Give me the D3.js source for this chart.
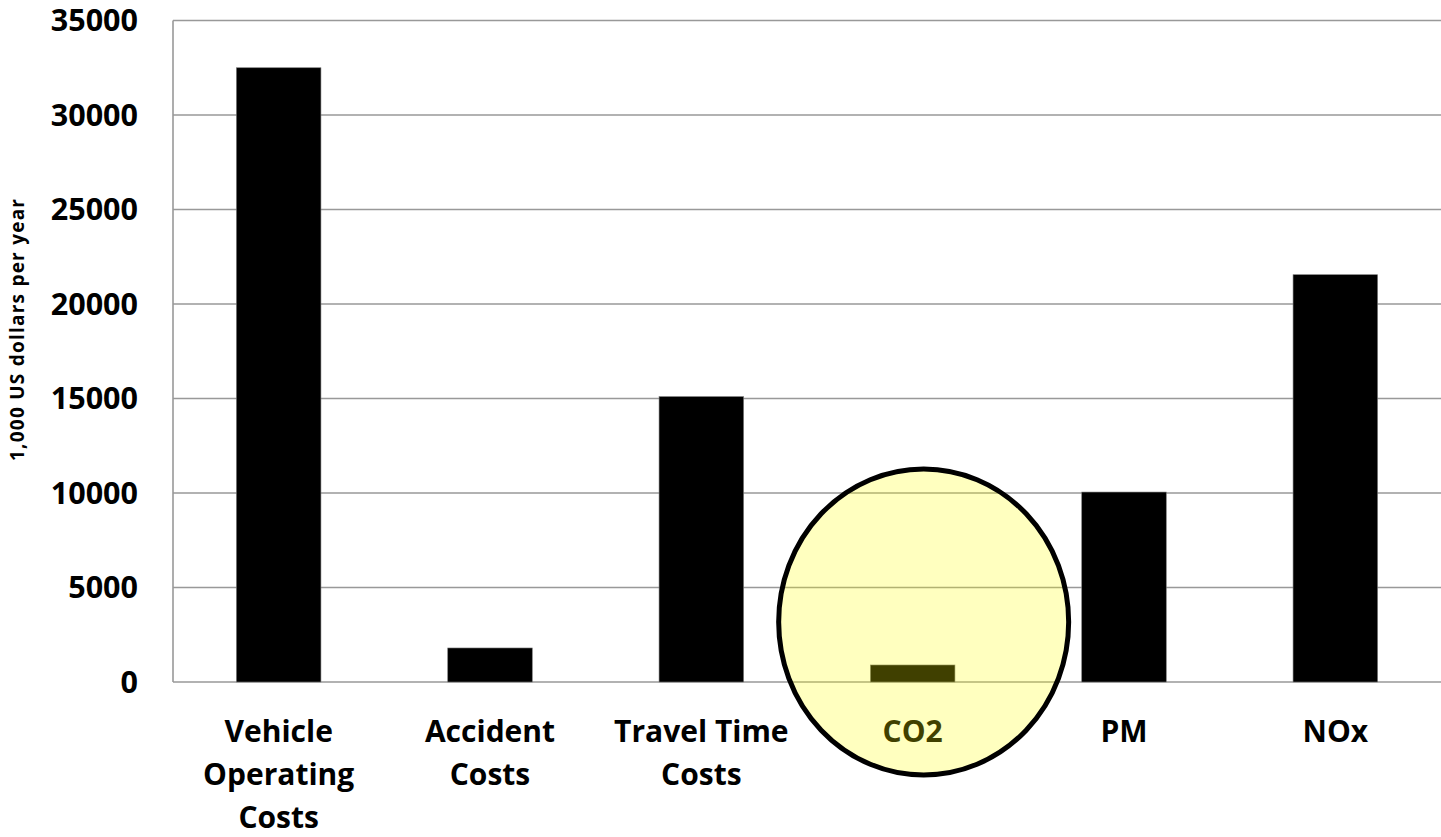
<!DOCTYPE html>
<html>
<head>
<meta charset="utf-8">
<script src="https://cdn.jsdelivr.net/npm/d3@7"></script>
<style>
  body { margin: 0; background: #fff; }
  text { font-family: "Open Sans", sans-serif; font-weight: 700; fill: #000; }
</style>
</head>
<body>
<svg id="chart" width="1441" height="837"></svg>
<script>
const categories = ['Vehicle Operating Costs', 'Accident Costs', 'Travel Time Costs', 'CO2', 'PM', 'NOx']
const labelLines = [['Vehicle', 'Operating', 'Costs'], ['Accident', 'Costs'], ['Travel Time', 'Costs'], ['CO2'], ['PM'], ['NOx']]
const costs = [32500, 1800, 15100, 900, 10050, 21550]
const yTicks = [0, 5000, 10000, 15000, 20000, 25000, 30000, 35000]
const yTitle = '1,000 US dollars per year'
const highlight = 'CO2'

const svg = d3.select('#chart')
const plotLeft = 173, plotRight = 1441, plotTop = 20.5, plotBottom = 682

const x = d3.scaleBand()
  .domain(categories)
  .range([plotLeft, plotRight])
  .paddingInner(0.6)
  .paddingOuter(0.3)

const y = d3.scaleLinear()
  .domain([0, 35000])
  .range([plotBottom, plotTop])

// gridlines
svg.append('g')
  .selectAll('line')
  .data(yTicks)
  .enter().append('line')
    .attr('x1', plotLeft)
    .attr('x2', plotRight)
    .attr('y1', d => y(d))
    .attr('y2', d => y(d))
    .attr('stroke', '#999')
    .attr('stroke-width', 1.6)

// left axis line
svg.append('line')
  .attr('x1', plotLeft).attr('x2', plotLeft)
  .attr('y1', y(35000)).attr('y2', y(0))
  .attr('stroke', '#999')
  .attr('stroke-width', 1.6)

// tick labels
svg.append('g')
  .selectAll('text')
  .data(yTicks)
  .enter().append('text')
    .attr('x', 138)
    .attr('y', d => y(d))
    .attr('dy', '0.36em')
    .attr('text-anchor', 'end')
    .style('font-size', '30.5px')
    .text(d => d)

// bars
svg.append('g')
  .selectAll('rect')
  .data(categories)
  .enter().append('rect')
    .attr('x', d => x(d))
    .attr('y', (d, i) => y(costs[i]))
    .attr('width', x.bandwidth())
    .attr('height', (d, i) => y(0) - y(costs[i]))
    .attr('fill', '#000')
    .attr('stroke', '#777')
    .attr('stroke-width', 0.6)

// category labels
const cat = svg.append('g')
  .selectAll('text')
  .data(categories)
  .enter().append('text')
    .attr('text-anchor', 'middle')
    .style('font-size', '30px')

cat.selectAll('tspan')
  .data((d, i) => labelLines[i].map(t => ({ t, c: d })))
  .enter().append('tspan')
    .attr('x', d => x(d.c) + x.bandwidth() / 2)
    .attr('y', (d, j) => 742 + j * 43)
    .text(d => d.t)

// y title
svg.append('text')
  .attr('transform', `translate(24, 330) rotate(-90)`)
  .attr('text-anchor', 'middle')
  .attr('textLength', 262)
  .attr('lengthAdjust', 'spacing')
  .style('font-size', '19px')
  .text(yTitle)

// highlight circle
svg.append('ellipse')
  .attr('cx', x(highlight) + x.bandwidth() / 2 + 11)
  .attr('cy', y(0) - 60)
  .attr('rx', 145)
  .attr('ry', 153)
  .attr('fill', '#ffff00')
  .attr('fill-opacity', 0.25)
  .attr('stroke', '#000')
  .attr('stroke-width', 5)
</script>
</body>
</html>
